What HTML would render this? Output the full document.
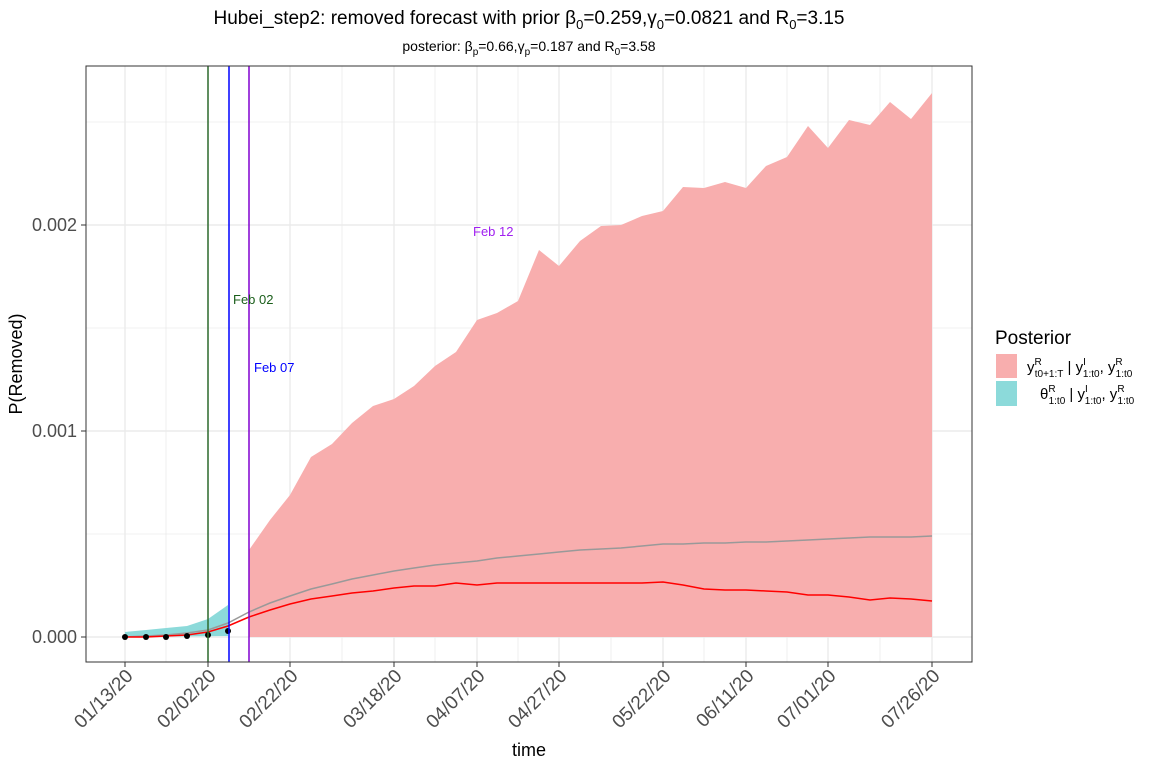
<!DOCTYPE html><html><head><style>body{margin:0;background:#fff}svg text{font-family:"Liberation Sans",Arial,sans-serif}</style></head><body>
<svg width="1152" height="768" xmlns="http://www.w3.org/2000/svg">
<rect width="1152" height="768" fill="#fff"/>
<g stroke="#ebebeb" stroke-width="0.8">
<line x1="86" x2="972" y1="534" y2="534"/><line x1="86" x2="972" y1="328" y2="328"/><line x1="86" x2="972" y1="122" y2="122"/>
<line y1="66" y2="662" x1="166" x2="166"/><line y1="66" y2="662" x1="249" x2="249"/><line y1="66" y2="662" x1="342" x2="342"/><line y1="66" y2="662" x1="435" x2="435"/><line y1="66" y2="662" x1="518" x2="518"/><line y1="66" y2="662" x1="611" x2="611"/><line y1="66" y2="662" x1="704" x2="704"/><line y1="66" y2="662" x1="787" x2="787"/><line y1="66" y2="662" x1="880" x2="880"/>
</g>
<g stroke="#ebebeb" stroke-width="1.4">
<line x1="86" x2="972" y1="637" y2="637"/><line x1="86" x2="972" y1="431" y2="431"/><line x1="86" x2="972" y1="225" y2="225"/>
<line y1="66" y2="662" x1="125" x2="125"/><line y1="66" y2="662" x1="208" x2="208"/><line y1="66" y2="662" x1="290" x2="290"/><line y1="66" y2="662" x1="394" x2="394"/><line y1="66" y2="662" x1="477" x2="477"/><line y1="66" y2="662" x1="559" x2="559"/><line y1="66" y2="662" x1="663" x2="663"/><line y1="66" y2="662" x1="746" x2="746"/><line y1="66" y2="662" x1="828" x2="828"/><line y1="66" y2="662" x1="932" x2="932"/>
</g>
<polygon fill="#f8aeae" points="249,637 249,550 270,520 290,495 311,457 332,444 352,423 373,406 394,399 414,386 435,366 456,352 477,320 497,313 518,301 539,250 559,266 580,241 601,226 621,225 642,216 663,211 683,187 704,188 725,182 746,188 766,166 787,157 808,126 828,148 849,120 870,125 890,102 911,119 932,93 932,637"/>
<polygon fill="#8cdada" points="125,632 146,630 166,628 187,626 208,619 228,605 228,636 125,637"/>
<polyline fill="none" stroke="#999" stroke-width="1.5" points="125,637 146,636 166,635 187,633 208,630 228,623 249,612 270,603 290,596 311,589 332,584 352,579 373,575 394,571 414,568 435,565 456,563 477,561 497,558 518,556 539,554 559,552 580,550 601,549 621,548 642,546 663,544 683,544 704,543 725,543 746,542 766,542 787,541 808,540 828,539 849,538 870,537 890,537 911,537 932,536"/>
<polyline fill="none" stroke="#f00" stroke-width="1.5" points="125,637 146,637 166,636 187,635 208,632 228,626 249,617 270,610 290,604 311,599 332,596 352,593 373,591 394,588 414,586 435,586 456,583 477,585 497,583 518,583 539,583 559,583 580,583 601,583 621,583 642,583 663,582 683,585 704,589 725,590 746,590 766,591 787,592 808,595 828,595 849,597 870,600 890,598 911,599 932,601"/>
<g fill="#000"><circle cx="125" cy="637" r="3"/><circle cx="146" cy="637" r="3"/><circle cx="166" cy="637" r="3"/><circle cx="187" cy="636" r="3"/><circle cx="208" cy="635" r="3"/><circle cx="228" cy="631" r="3"/></g>
<line x1="208" x2="208" y1="66" y2="662" stroke="#2e6b2e" stroke-width="1.5"/>
<line x1="229" x2="229" y1="66" y2="662" stroke="#00f" stroke-width="1.5"/>
<line x1="249" x2="249" y1="66" y2="662" stroke="#8000d0" stroke-width="1.5"/>
<text x="233" y="304" font-size="13" fill="#1a5e1a">Feb 02</text>
<text x="254" y="372" font-size="13" fill="#00f">Feb 07</text>
<text x="473" y="236" font-size="13" fill="#a020f0">Feb 12</text>
<rect x="86" y="66" width="886" height="596" fill="none" stroke="#333" stroke-width="1"/>
<g stroke="#333"><line x1="81" x2="86" y1="637" y2="637"/><line x1="81" x2="86" y1="431" y2="431"/><line x1="81" x2="86" y1="225" y2="225"/>
<line y1="662" y2="667" x1="125" x2="125"/><line y1="662" y2="667" x1="208" x2="208"/><line y1="662" y2="667" x1="290" x2="290"/><line y1="662" y2="667" x1="394" x2="394"/><line y1="662" y2="667" x1="477" x2="477"/><line y1="662" y2="667" x1="559" x2="559"/><line y1="662" y2="667" x1="663" x2="663"/><line y1="662" y2="667" x1="746" x2="746"/><line y1="662" y2="667" x1="828" x2="828"/><line y1="662" y2="667" x1="932" x2="932"/></g>
<g font-size="18" fill="#4d4d4d" text-anchor="end"><text x="77" y="643">0.000</text><text x="77" y="437">0.001</text><text x="77" y="231">0.002</text></g>
<g font-size="19" fill="#4d4d4d" text-anchor="end">
<text transform="translate(134,677) rotate(-45)">01/13/20</text><text transform="translate(217,677) rotate(-45)">02/02/20</text><text transform="translate(299,677) rotate(-45)">02/22/20</text><text transform="translate(403,677) rotate(-45)">03/18/20</text><text transform="translate(486,677) rotate(-45)">04/07/20</text><text transform="translate(568,677) rotate(-45)">04/27/20</text><text transform="translate(672,677) rotate(-45)">05/22/20</text><text transform="translate(755,677) rotate(-45)">06/11/20</text><text transform="translate(837,677) rotate(-45)">07/01/20</text><text transform="translate(941,677) rotate(-45)">07/26/20</text></g>
<text x="529" y="756" font-size="18" text-anchor="middle">time</text>
<text transform="translate(22,364) rotate(-90)" font-size="18" text-anchor="middle">P(Removed)</text>
<text x="529" y="24" font-size="19" text-anchor="middle">Hubei_step2: removed forecast with prior β<tspan font-size="13" dy="5">0</tspan><tspan dy="-5">=0.259,γ</tspan><tspan font-size="13" dy="5">0</tspan><tspan dy="-5">=0.0821 and R</tspan><tspan font-size="13" dy="5">0</tspan><tspan dy="-5">=3.15</tspan></text>
<text x="529" y="51" font-size="14" text-anchor="middle">posterior: β<tspan font-size="10" dy="4">p</tspan><tspan dy="-4">=0.66,γ</tspan><tspan font-size="10" dy="4">p</tspan><tspan dy="-4">=0.187 and R</tspan><tspan font-size="10" dy="4">0</tspan><tspan dy="-4">=3.58</tspan></text>
<text x="995" y="344" font-size="19">Posterior</text>
<rect x="996" y="354" width="21" height="24" fill="#f8aeae"/>
<rect x="996" y="381" width="21" height="25" fill="#8cdada"/>
<text x="1027" y="372" font-size="15">y<tspan font-size="10" dy="-7">R</tspan><tspan font-size="10" dx="-7" dy="12">t0+1:T</tspan><tspan dy="-5"> | y</tspan><tspan font-size="10" dy="-7">I</tspan><tspan font-size="10" dx="-3" dy="12">1:t0</tspan><tspan dy="-5">, y</tspan><tspan font-size="10" dy="-7">R</tspan><tspan font-size="10" dx="-7" dy="12">1:t0</tspan></text>
<text x="1040" y="399" font-size="15">θ<tspan font-size="10" dy="-7">R</tspan><tspan font-size="10" dx="-7" dy="12">1:t0</tspan><tspan dy="-5"> | y</tspan><tspan font-size="10" dy="-7">I</tspan><tspan font-size="10" dx="-3" dy="12">1:t0</tspan><tspan dy="-5">, y</tspan><tspan font-size="10" dy="-7">R</tspan><tspan font-size="10" dx="-7" dy="12">1:t0</tspan></text>
</svg></body></html>
